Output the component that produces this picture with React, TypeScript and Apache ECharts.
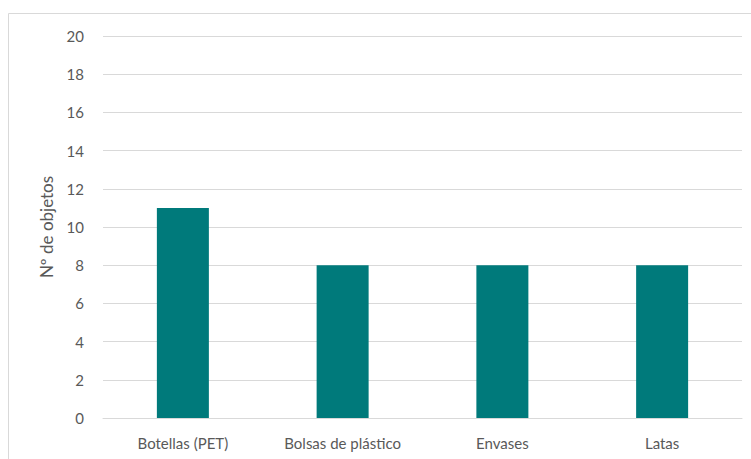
import React, { useEffect, useRef } from "react";
import * as echarts from "echarts";

const categories = ["Botellas (PET)", "Bolsas de plástico", "Envases", "Latas"];
const values = [11, 8, 8, 8];
const yAxisName = "Nº de objetos";

export default function App() {
  const ref = useRef<HTMLDivElement>(null);
  useEffect(() => {
    document.body.style.margin = "0";
    const chart = echarts.init(ref.current!, null, { renderer: "svg" });
    chart.setOption({
      animation: false,
      backgroundColor: "#ffffff",
      graphic: [
        {
          type: "rect",
          shape: { x: 8.5, y: 13.5, width: 760, height: 460 },
          style: { fill: "none", stroke: "#d9d9d9", lineWidth: 1 },
          silent: true,
        },
      ],
      grid: { left: 103, right: 9, top: 36, bottom: 41, containLabel: false },
      xAxis: {
        type: "category",
        data: categories,
        axisTick: { show: false },
        axisLine: { show: true, lineStyle: { color: "#d9d9d9", width: 1 } },
        axisLabel: { color: "#595959", fontSize: 15, fontFamily: "Lato", margin: 17 },
      },
      yAxis: {
        type: "value",
        min: 0,
        max: 20,
        interval: 2,
        name: yAxisName,
        nameLocation: "middle",
        nameGap: 48,
        nameTextStyle: { color: "#595959", fontSize: 17, fontFamily: "Lato" },
        axisLine: { show: false },
        axisTick: { show: false },
        axisLabel: { color: "#595959", fontSize: 15, fontFamily: "Lato", margin: 19 },
        splitLine: { lineStyle: { color: "#d9d9d9", width: 1 } },
      },
      series: [
        {
          type: "bar",
          data: values,
          barWidth: 52,
          itemStyle: { color: "#007a7b" },
        },
      ],
    });
    return () => chart.dispose();
  }, []);
  return (
    <div
      ref={ref}
      style={{ position: "absolute", left: 0, top: 0, width: 751, height: 459 }}
    />
  );
}
